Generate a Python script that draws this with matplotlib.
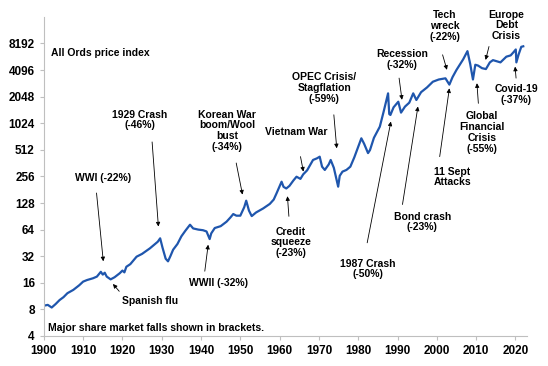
import matplotlib.pyplot as plt
from matplotlib.ticker import FixedLocator, FixedFormatter

plt.rcParams['font.family'] = ['Liberation Sans', 'DejaVu Sans']
plt.rcParams['font.weight'] = 'bold'

# All Ords price index (year, index level)
years = [1900, 1901, 1902, 1903, 1904, 1905, 1906, 1907.5, 1909, 1910,
         1911, 1912.5, 1913.5, 1914.5, 1915, 1915.5, 1916, 1917, 1918, 1919.3,
         1920, 1920.5, 1921, 1922, 1923.6, 1925, 1927, 1929, 1929.6, 1930.2,
         1931, 1931.6, 1932.2, 1932.9, 1934, 1935, 1936, 1937.2, 1938, 1939.3,
         1940.5, 1941.4, 1942.2, 1942.6, 1943.5, 1945, 1946.5, 1947.5, 1948.2, 1949,
         1950, 1951, 1951.5, 1952.2, 1952.9, 1954, 1955.8, 1957.5, 1958.5, 1959.2,
         1960.5, 1961, 1961.7, 1962.5, 1963.5, 1964.3, 1965.3, 1966, 1967, 1968.5,
         1969.5, 1970.2, 1970.8, 1971.5, 1972.5, 1973, 1973.8, 1974.9, 1975.3, 1976,
         1977, 1978, 1979, 1980.8, 1981.5, 1982.5, 1983, 1984, 1985.5, 1986.5,
         1987.6, 1987.9, 1988.2, 1989, 1990.2, 1990.9, 1991.9, 1993, 1994, 1994.8,
         1996, 1997.5, 1999, 2000.5, 2002.2, 2003.2, 2004, 2005, 2006.7, 2007.8,
         2008.5, 2009.2, 2009.8, 2010.5, 2011.5, 2012.5, 2013.5, 2014.3, 2015.5, 2016.2,
         2017.7, 2018.8, 2019.5, 2020.1, 2020.25, 2020.8, 2021.5, 2022]
index = [8.8, 9.0, 8.4, 9.2, 10.2, 11.0, 12.2, 13.3, 15, 16.5,
         17.2, 18, 18.8, 21.3, 19.8, 20.8, 18.8, 17.5, 18.5, 20.5,
         22, 21, 24.3, 26, 31.6, 34, 39.3, 46.7, 51, 40,
         30, 28, 32, 37.9, 44, 53.7, 62, 72.7, 66, 64,
         63, 61, 50, 58, 66.7, 70, 78.7, 88, 96, 92,
         92, 115, 136, 105, 91, 100, 111, 125, 140, 164,
         223, 195, 187, 200, 230, 254, 240, 270, 300, 393,
         410, 428, 330, 303, 350, 393, 320, 196, 260, 290,
         303, 330, 420, 691, 600, 470, 509, 700, 936, 1400,
         2230, 1300, 1270, 1550, 1793, 1350, 1578, 1750, 2230, 1876,
         2300, 2600, 3020, 3200, 3300, 2800, 3400, 4100, 5400, 6700,
         4800, 3200, 4700, 4600, 4300, 4200, 5000, 5300, 5100, 5000,
         5800, 6000, 6500, 7000, 5000, 6100, 7500, 7600]

ytick_vals = [4, 8, 16, 32, 64, 128, 256, 512, 1024, 2048, 4096, 8192]
xtick_vals = list(range(1900, 2030, 10))

# (label, text position, arrow tail, arrow head) in axes fractions
notes = [
    ('1929 Crash\n(-46%)', (0.199, 0.677), (0.224, 0.608), (0.237, 0.343)),
    ('Korean War\nboom/Wool\nbust\n(-34%)', (0.379, 0.643), (0.398, 0.542), (0.411, 0.443)),
    ('WWI (-22%)', (0.122, 0.495), (0.109, 0.448), (0.123, 0.234)),
    ('Spanish flu', (0.219, 0.109), (0.156, 0.140), (0.143, 0.163)),
    ('WWII (-32%)', (0.361, 0.166), (0.333, 0.203), (0.340, 0.286)),
    ('Vietnam War', (0.522, 0.639), (0.531, 0.562), (0.537, 0.515)),
    ('OPEC Crisis/\nStagflation\n(-59%)', (0.580, 0.777), (0.600, 0.693), (0.606, 0.588)),
    ('Recession\n(-32%)', (0.741, 0.866), (0.735, 0.808), (0.741, 0.740)),
    ('Tech\nwreck\n(-22%)', (0.830, 0.972), (0.825, 0.881), (0.834, 0.834)),
    ('Europe\nDebt\nCrisis', (0.957, 0.973), (0.921, 0.907), (0.914, 0.865)),
    ('Global\nFinancial\nCrisis\n(-55%)', (0.907, 0.638), (0.899, 0.729), (0.896, 0.792)),
    ('Covid-19\n(-37%)', (0.977, 0.756), (0.977, 0.808), (0.975, 0.844)),
    ('11 Sept\nAttacks', (0.845, 0.498), (0.819, 0.562), (0.839, 0.776)),
    ('Bond crash\n(-23%)', (0.783, 0.357), (0.742, 0.412), (0.774, 0.719)),
    ('1987 Crash\n(-50%)', (0.671, 0.210), (0.669, 0.292), (0.718, 0.672)),
    ('Credit\nsqueeze\n(-23%)', (0.511, 0.293), (0.507, 0.375), (0.504, 0.438)),
]

fig = plt.figure(figsize=(5.48, 3.66), dpi=100)
ax = fig.add_axes([0.080, 0.082, 0.882, 0.872])

ax.plot(years, index, color='#1f56ad', linewidth=1.6)

ax.set_yscale('log', base=2)
ax.set_ylim(4, 16384)
ax.set_xlim(1900, 2023)
ax.yaxis.set_major_locator(FixedLocator(ytick_vals))
ax.yaxis.set_major_formatter(FixedFormatter([str(v) for v in ytick_vals]))
ax.yaxis.set_minor_locator(FixedLocator([]))
ax.set_xticks(xtick_vals)

for s in ['top', 'right']:
    ax.spines[s].set_visible(False)
for s in ['left', 'bottom']:
    ax.spines[s].set_color('#bfbfbf')
ax.tick_params(axis='both', colors='#bfbfbf', length=3, labelsize=8.5, labelcolor='black')

ax.text(0.0145, 0.888, 'All Ords price index', transform=ax.transAxes,
        ha='left', va='center', fontsize=7.5)
ax.text(0.009, 0.025, 'Major share market falls shown in brackets.', transform=ax.transAxes,
        ha='left', va='center', fontsize=7.5)

for label, txy, tail, head in notes:
    ax.text(txy[0], txy[1], label, transform=ax.transAxes, ha='center', va='center',
            fontsize=7.5, linespacing=1.1)
    ax.annotate('', xy=head, xytext=tail, xycoords='axes fraction', textcoords='axes fraction',
                arrowprops=dict(arrowstyle='-|>', color='black', lw=0.6,
                                mutation_scale=6, shrinkA=0, shrinkB=0))

fig.savefig('out.png', dpi=100)
